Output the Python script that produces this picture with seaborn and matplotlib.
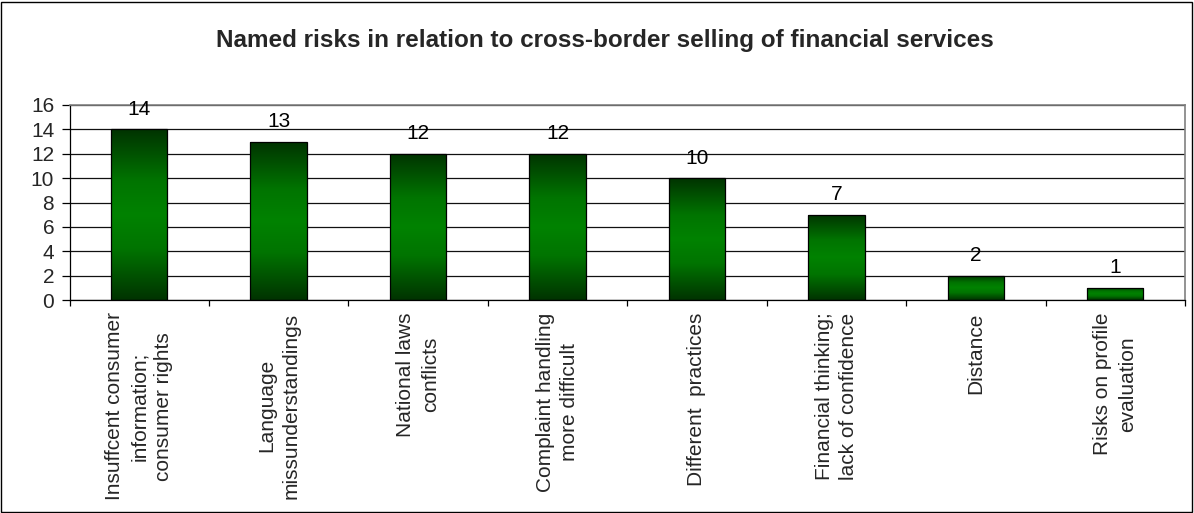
import numpy as np
import pandas as pd
import matplotlib
matplotlib.use("Agg")
import matplotlib.pyplot as plt
from matplotlib.colors import LinearSegmentedColormap
from matplotlib.patches import Rectangle
import seaborn as sns

categories = [
    "Insuffcent consumer\ninformation;\nconsumer rights",
    "Language\nmissunderstandings",
    "National laws\nconflicts",
    "Complaint handling\nmore difficult",
    "Different  practices",
    "Financial thinking;\nlack of confidence",
    "Distance",
    "Risks on profile\nevaluation",
]
counts = [14, 13, 12, 12, 10, 7, 2, 1]
title = "Named risks in relation to cross-border selling of financial services"
y_ticks = [0, 2, 4, 6, 8, 10, 12, 14, 16]

sns.set_theme(style="white")
plt.rcParams["font.family"] = ["Liberation Sans", "DejaVu Sans"]

df = pd.DataFrame({"risk": categories, "count": counts})

W, H = 1194, 513
fig = plt.figure(figsize=(W / 100, H / 100), dpi=100)
fig.patch.set_facecolor("white")
ax = fig.add_axes([69.5 / W, 1 - 300 / H, 1115.5 / W, 195 / H])

sns.barplot(data=df, x="risk", y="count", color="#008000", width=0.404,
            edgecolor="black", linewidth=0.9, ax=ax, zorder=3)

# vertical dark-bright-dark shading inside each bar
cmap = LinearSegmentedColormap.from_list(
    "bar_shade", [(0.0, "#003300"), (0.3, "#007400"), (0.5, "#008200"),
                  (0.7, "#007400"), (1.0, "#003300")])
grad = np.linspace(0, 1, 256).reshape(-1, 1)
for patch in ax.patches:
    x0, y0 = patch.get_x(), patch.get_y()
    w, h = patch.get_width(), patch.get_height()
    patch.set_facecolor("none")
    im = ax.imshow(grad, cmap=cmap, aspect="auto", origin="lower",
                   extent=(x0, x0 + w, y0, y0 + h), zorder=2.5)
    im.set_clip_path(patch)

ax.set_xlim(-0.5, len(categories) - 0.5)
ax.set_ylim(0, 16)
ax.set_yticks(y_ticks)
ax.set_yticklabels([str(t) for t in y_ticks], fontsize=15)
ax.set_axisbelow(True)
ax.yaxis.grid(True, color="#111111", linewidth=0.9)
ax.xaxis.grid(False)

# value labels above bars
for i, v in enumerate(counts):
    ax.annotate(str(v), (i, v), xytext=(0, 10.5), textcoords="offset points",
                ha="center", va="baseline", fontsize=15, color="black")

# category labels centred, tick marks at category boundaries
ax.set_xticks(range(len(categories)))
ax.set_xticklabels(categories, rotation=90, fontsize=15, ha="center",
                   va="top", multialignment="center", linespacing=1.38)
ax.tick_params(axis="x", which="major", length=0, pad=9)
ax.set_xticks(np.arange(-0.5, len(categories) + 0.5, 1), minor=True)
ax.tick_params(axis="x", which="minor", bottom=True, length=4.5, width=0.9,
               color="black", direction="out")
ax.tick_params(axis="y", left=True, length=6, width=0.9, color="black",
               direction="out", pad=5)
ax.set_xlabel("")
ax.set_ylabel("")

for side in ["left", "bottom"]:
    ax.spines[side].set_color("black")
    ax.spines[side].set_linewidth(0.9)
for side in ["top", "right"]:
    ax.spines[side].set_color("#808080")
    ax.spines[side].set_linewidth(1.2)

fig.text(604.5 / W, 1 - 40 / H, title, ha="center", va="center",
         fontsize=17.5, fontweight="bold")

# outer frame of the chart
fig.patches.append(Rectangle((1 / W, 1 / H), 1 - 3 / W, 1 - 3 / H,
                             transform=fig.transFigure, fill=False,
                             edgecolor="black", linewidth=1.0))

fig.savefig("out.png", dpi=100, facecolor="white")
